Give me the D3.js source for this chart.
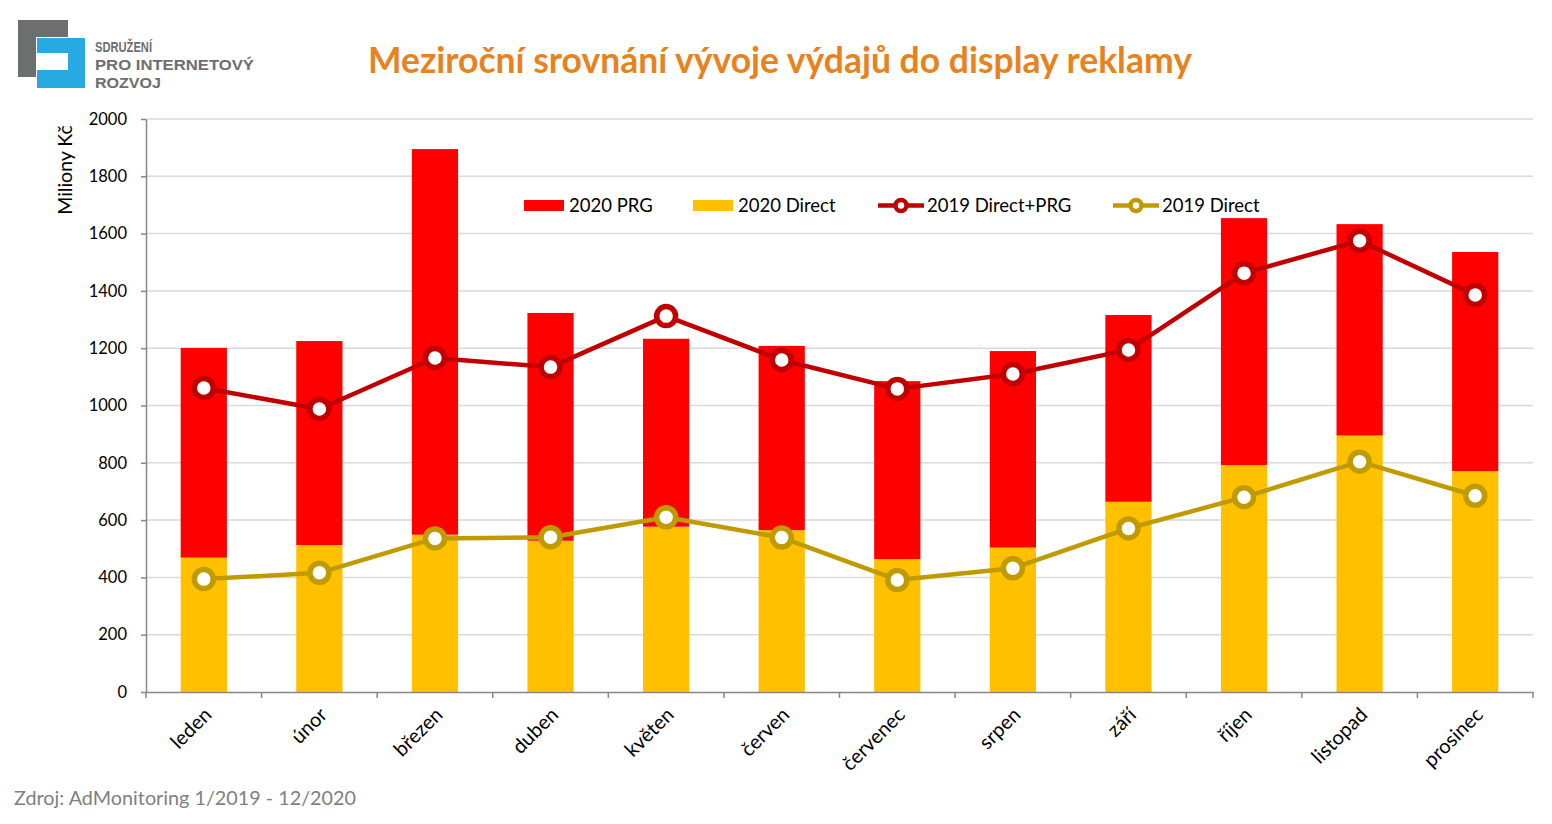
<!DOCTYPE html>
<html><head><meta charset="utf-8">
<script src="https://cdn.jsdelivr.net/npm/d3@7"></script>
<style>body{margin:0;background:#fff;} svg{display:block;font-family:Lato,"Open Sans",sans-serif;}</style>
</head><body>
<svg id="c" width="1552" height="824"></svg>
<script>
const months = ["leden","únor","březen","duben","květen","červen","červenec","srpen","září","říjen","listopad","prosinec"];
const direct2020 = [469,513,549,528,577,565,464,504,664,792,895,771];
const total2020 = [1201,1225,1895,1323,1233,1208,1085,1190,1316,1654,1633,1536];
const prg2020 = total2020.map((t,i)=>t-direct2020[i]);
const directPrg2019 = [1061,988,1166,1134,1312,1159,1058,1110,1194,1462,1575,1386];
const direct2019 = [394,416,536,540,610,539,391,432,571,680,804,685];
const yTicks = [0,200,400,600,800,1000,1200,1400,1600,1800,2000];

const svg = d3.select("#c");
const M = {l:146, r:1533, t:119, b:692};
const x = d3.scaleBand().domain(months).range([M.l,M.r]).paddingInner(0.6).paddingOuter(0.3);
const xb = d3.scaleBand().domain(months).range([M.l,M.r]);
const y = d3.scaleLinear().domain([0,2000]).range([M.b,M.t]);

// logo
const logo = svg.append("g");
logo.append("path").attr("fill","#6D6E70").attr("d","M18,20H68V37H36V77H18Z");
logo.append("path").attr("fill","#27AAE1").attr("d","M37,38H85V88H37V70H68V53H37Z");
const lt = logo.append("g").attr("fill","#6D6E70").attr("font-family","'Liberation Sans Narrow','Liberation Sans',sans-serif").attr("font-weight","bold").attr("font-size","15.4px");
[["SDRUŽENÍ",57],["PRO INTERNETOVÝ",159],["ROZVOJ",66]].forEach((s,i)=>lt.append("text").attr("x",95).attr("y",52+i*18)
  .attr("textLength",s[1]).attr("lengthAdjust","spacingAndGlyphs").text(s[0]));

// title
svg.append("text").attr("x",780).attr("y",73).attr("text-anchor","middle").attr("fill","#E8821E")
  .attr("font-weight","bold").attr("font-size","35.5px").text("Meziroční srovnání vývoje výdajů do display reklamy");

// grid
svg.append("g").selectAll("line").data(yTicks.filter(d=>d>0)).join("line")
  .attr("x1",M.l).attr("x2",M.r).attr("y1",d=>y(d)).attr("y2",d=>y(d)).attr("stroke","#D9D9D9").attr("stroke-width",1.5);

// bars
const gb = svg.append("g");
gb.selectAll(".d").data(months).join("rect").attr("x",d=>x(d)).attr("width",x.bandwidth())
  .attr("y",(d,i)=>y(direct2020[i])).attr("height",(d,i)=>y(0)-y(direct2020[i])).attr("fill","#FFC000");
gb.selectAll(".p").data(months).join("rect").attr("x",d=>x(d)).attr("width",x.bandwidth())
  .attr("y",(d,i)=>y(direct2020[i]+prg2020[i])).attr("height",(d,i)=>y(direct2020[i])-y(direct2020[i]+prg2020[i])).attr("fill","#FF0000");

// axes
const ya = svg.append("g").attr("transform",`translate(${M.l},0)`)
  .call(d3.axisLeft(y).tickValues(yTicks).tickFormat(d3.format("d")).tickSize(5).tickPadding(14).tickSizeOuter(0));
ya.select(".domain").attr("stroke","#868686").attr("stroke-width",1.5);
ya.selectAll(".tick line").attr("stroke","#868686").attr("stroke-width",1.5);
ya.selectAll(".tick text").attr("font-family","Lato,sans-serif").attr("font-size","16.5px").attr("fill","#000");

const xa = svg.append("g").attr("transform",`translate(0,${M.b})`)
  .call(d3.axisBottom(xb).tickSize(0).tickSizeOuter(0));
xa.select(".domain").attr("stroke","#868686").attr("stroke-width",1.5);
xa.selectAll(".tick text").attr("font-family","Lato,sans-serif").attr("font-size","20px").attr("fill","#000")
  .attr("text-anchor","end").attr("dy",null).attr("y",0)
  .attr("transform","translate(9,24) rotate(-45)");
xa.append("g").selectAll("line").data(d3.range(13)).join("line")
  .attr("x1",i=>M.l+i*xb.step()).attr("x2",i=>M.l+i*xb.step()).attr("y1",0).attr("y2",6)
  .attr("stroke","#868686").attr("stroke-width",1.5);

// y label
svg.append("text").attr("transform","translate(72,170) rotate(-90)").attr("text-anchor","middle")
  .attr("font-size","19.5px").attr("fill","#000").text("Miliony Kč");

// lines
function series(data,color){
  const cx = (d,i)=>x(months[i])+x.bandwidth()/2;
  svg.append("path").datum(data).attr("fill","none").attr("stroke",color).attr("stroke-width",4.5)
    .attr("stroke-linejoin","round").attr("d",d3.line().x(cx).y(d=>y(d)));
  svg.append("g").selectAll("circle").data(data).join("circle").attr("cx",cx).attr("cy",d=>y(d))
    .attr("r",9.5).attr("fill","#fff").attr("stroke",color).attr("stroke-width",5.5);
}
series(directPrg2019,"#C00000");
series(direct2019,"#BF9B00");

// legend
const lg = svg.append("g").attr("font-size","18.5px").attr("fill","#000");
const items = [
  {t:"2020 PRG", x:524, type:"rect", c:"#FF0000"},
  {t:"2020 Direct", x:693, type:"rect", c:"#FFC000"},
  {t:"2019 Direct+PRG", x:878, type:"line", c:"#C00000"},
  {t:"2019 Direct", x:1113, type:"line", c:"#BF9B00"}
];
items.forEach(it=>{
  if(it.type==="rect"){
    lg.append("rect").attr("x",it.x).attr("y",200).attr("width",40).attr("height",11).attr("fill",it.c);
  } else {
    lg.append("line").attr("x1",it.x).attr("x2",it.x+46).attr("y1",205.5).attr("y2",205.5).attr("stroke",it.c).attr("stroke-width",4.5);
    lg.append("circle").attr("cx",it.x+23).attr("cy",205.5).attr("r",5.5).attr("fill","#fff").attr("stroke",it.c).attr("stroke-width",4.5);
  }
  lg.append("text").attr("x",it.x+(it.type==="rect"?45:49)).attr("y",212).text(it.t);
});

// source
svg.append("text").attr("x",14).attr("y",805).attr("fill","#7F7F7F").attr("font-size","19.8px").text("Zdroj: AdMonitoring 1/2019 - 12/2020");
</script>
</body></html>
